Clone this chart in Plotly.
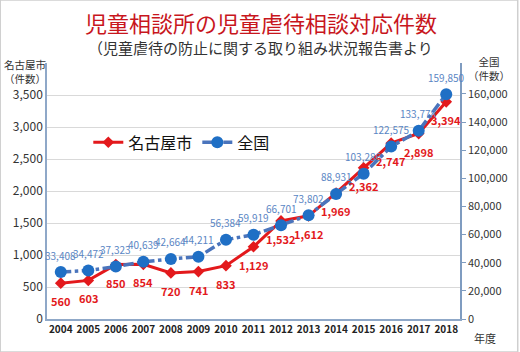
import plotly.graph_objects as go

years = ["2004","2005","2006","2007","2008","2009","2010","2011","2012","2013","2014","2015","2016","2017","2018"]
nagoya = [560, 603, 850, 854, 720, 741, 833, 1129, 1532, 1612, 1969, 2362, 2747, 2898, 3394]
national = [33408, 34472, 37323, 40639, 42664, 44211, 56384, 59919, 66701, 73802, 88931, 103286, 122575, 133778, 159850]
left_ticks = [0, 500, 1000, 1500, 2000, 2500, 3000, 3500]
right_ticks = [0, 20000, 40000, 60000, 80000, 100000, 120000, 140000, 160000]

FONT = "Noto Sans CJK JP"
RED = "#E3191C"
BLUE_LINE = "#4A74BC"
BLUE_MARK = "#1F6FC5"
BLUE_TXT = "#5A86C4"

fig = go.Figure()
fig.add_trace(go.Scatter(
    x=years, y=national, name="全国", yaxis="y2",
    mode="lines+markers",
    line=dict(color=BLUE_LINE, width=3.5, dash="dashdot"),
    marker=dict(symbol="circle", size=12, color=BLUE_MARK),
))
fig.add_trace(go.Scatter(
    x=years, y=nagoya, name="名古屋市",
    mode="lines+markers",
    line=dict(color=RED, width=3),
    marker=dict(symbol="diamond", size=9, color=RED),
))

L, R, T, B = 47, 58, 63, 33
pw, ph = 520 - L - R, 352 - T - B

annotations = []
for i, v in enumerate(national):
    annotations.append(dict(x=i, y=v, xref="x", yref="y2", text=f"{v:,}", showarrow=False,
                            yshift=17, font=dict(family=FONT, size=10, color=BLUE_TXT)))
for i, v in enumerate(nagoya):
    annotations.append(dict(x=i, y=v, xref="x", yref="y", text=f"<b>{v:,}</b>", showarrow=False,
                            yshift=-18, font=dict(family=FONT, size=11, color=RED)))

def px(text, x, y, size, color):
    return dict(text=text, xref="paper", yref="paper", x=(x - L) / pw, y=(352 - B - y) / ph,
                xanchor="center", yanchor="middle", showarrow=False,
                font=dict(family=FONT, size=size, color=color))

annotations += [
    px("児童相談所の児童虐待相談対応件数", 262, 22, 22, "#C8161D"),
    px("（児童虐待の防止に関する取り組み状況報告書より", 262, 47, 15, "#333333"),
    px("名古屋市<br>（件数）", 25, 71, 10.5, "#333333"),
    px("全国<br>（件数）", 491, 68, 10.5, "#333333"),
    px("年度", 487, 338, 11, "#333333"),
]

fig.update_layout(
    width=520, height=352,
    margin=dict(l=L, r=R, t=T, b=B),
    paper_bgcolor="white", plot_bgcolor="white",
    font=dict(family=FONT, color="#333333"),
    showlegend=True,
    legend=dict(orientation="h", x=0.10, y=0.69, xanchor="left", yanchor="middle",
                font=dict(family=FONT, size=16, color="#111111"),
                traceorder="reversed", bgcolor="rgba(0,0,0,0)", itemwidth=30),
    xaxis=dict(type="category", range=[-0.5, 14.5], showgrid=False,
               showline=True, linecolor="#8FA8C8", linewidth=1.5,
               tickfont=dict(family=FONT, size=10, color="#222222", weight="bold"), ticks=""),
    yaxis=dict(range=[0, 4000], tickvals=left_ticks + [4000], ticktext=[f"{t:,}" for t in left_ticks] + [""],
               showgrid=True, gridcolor="#D9D9D9",
               showline=True, linecolor="#8FA8C8", linewidth=1.5,
               tickfont=dict(family=FONT, size=12, color="#333333"),
               zeroline=False),
    yaxis2=dict(range=[0, 182000], tickvals=right_ticks, ticktext=[f"{t:,}" for t in right_ticks],
                overlaying="y", side="right",
                showgrid=False, showline=True, linecolor="#7F9CC0", linewidth=1.5,
                ticks="outside", ticklen=4, tickcolor="#7F9CC0",
                tickfont=dict(family=FONT, size=11, color="#333333"),
                zeroline=False),
    shapes=[dict(type="rect", xref="paper", yref="paper", x0=-L / pw, x1=1 + R / pw,
                 y0=-B / ph, y1=1 + T / ph, line=dict(color="#CFCFCF", width=1.5))],
    annotations=annotations,
)

fig.write_html("out.html")
